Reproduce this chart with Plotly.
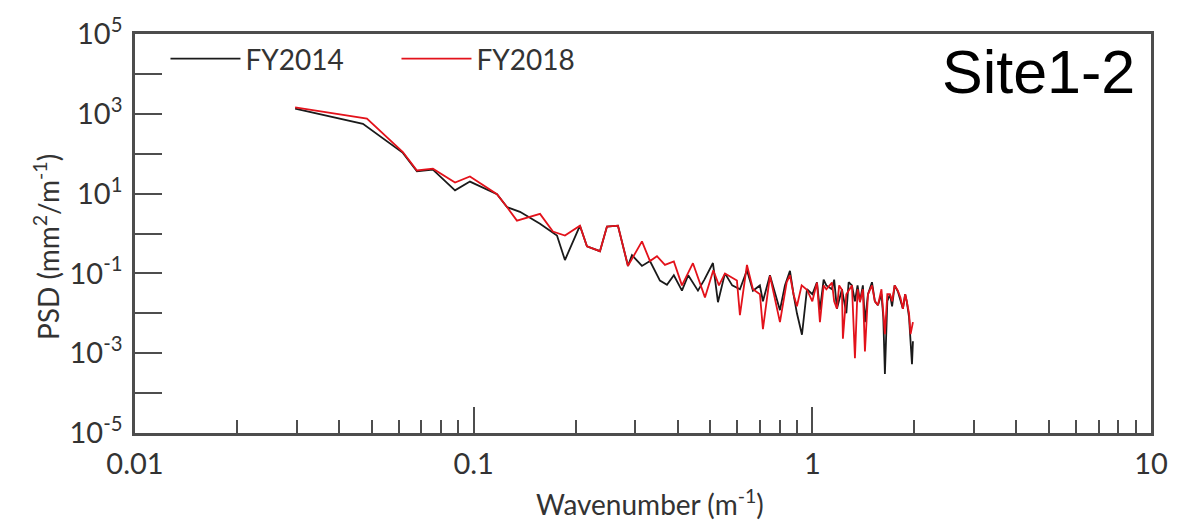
import plotly.graph_objects as go

# ---- data ----
k_2014 = [0.0297, 0.0471, 0.0618, 0.068, 0.0758, 0.0881, 0.0975, 0.1172, 0.1254, 0.137,
          0.157, 0.1762, 0.186, 0.206, 0.216, 0.236, 0.2475, 0.2667, 0.2855, 0.2934,
          0.314, 0.3316, 0.3548, 0.3722, 0.39, 0.4121, 0.43, 0.4595, 0.48, 0.5088,
          0.5264, 0.5521, 0.58, 0.6112, 0.6411, 0.6678, 0.70, 0.7147, 0.7496, 0.78,
          0.8024, 0.83, 0.8589, 0.88, 0.9006, 0.9319, 0.9641, 1.0, 1.032, 1.053,
          1.08, 1.10, 1.143, 1.16, 1.182, 1.223, 1.26, 1.28, 1.309, 1.336,
          1.36, 1.382, 1.41, 1.43, 1.46, 1.50, 1.53, 1.562, 1.60, 1.62,
          1.638, 1.665, 1.695, 1.72, 1.75, 1.789, 1.82, 1.851, 1.88, 1.90,
          1.93, 1.969, 1.982]
psd_2014 = [1340, 560, 105, 36, 40, 12.1, 20, 9.7, 4.6, 3.5,
            1.76, 0.89, 0.216, 1.57, 0.48, 0.36, 1.49, 1.57, 0.154, 0.287,
            0.154, 0.204, 0.066, 0.052, 0.09, 0.037, 0.09, 0.037, 0.07, 0.182,
            0.019, 0.10, 0.05, 0.04, 0.12, 0.037, 0.05, 0.02, 0.09, 0.03,
            0.012, 0.05, 0.116, 0.03, 0.01, 0.0029, 0.04, 0.03, 0.06, 0.012,
            0.07, 0.05, 0.04, 0.07, 0.013, 0.04, 0.01, 0.06, 0.05, 0.02,
            0.05, 0.02, 0.05, 0.006, 0.03, 0.06, 0.02, 0.016, 0.03, 0.008,
            0.0003, 0.02, 0.03, 0.015, 0.05, 0.035, 0.02, 0.013, 0.03, 0.02,
            0.008, 0.00053, 0.002]

k_2018 = [0.0297, 0.0484, 0.0618, 0.068, 0.0758, 0.0881, 0.0975, 0.1172, 0.1254, 0.1342,
          0.157, 0.1714, 0.186, 0.206, 0.216, 0.236, 0.2475, 0.2667, 0.2855, 0.314,
          0.3316, 0.3477, 0.3671, 0.39, 0.4121, 0.4441, 0.4819, 0.51, 0.53, 0.5521,
          0.5989, 0.6112, 0.6411, 0.6678, 0.7003, 0.7147, 0.7496, 0.78, 0.8024, 0.84,
          0.8589, 0.88, 0.9006, 0.93, 0.9641, 1.0, 1.032, 1.053, 1.08, 1.10,
          1.143, 1.16, 1.182, 1.2, 1.223, 1.231, 1.26, 1.309, 1.336, 1.36,
          1.382, 1.41, 1.43, 1.46, 1.50, 1.53, 1.562, 1.60, 1.62, 1.638,
          1.665, 1.695, 1.72, 1.75, 1.789, 1.82, 1.851, 1.88, 1.90, 1.93,
          1.95, 1.982]
psd_2018 = [1450, 760, 110, 38, 42, 19, 27, 9.7, 4.6, 2.1,
            3.1, 1.12, 0.89, 1.57, 0.48, 0.36, 1.49, 1.57, 0.154, 0.635,
            0.204, 0.27, 0.163, 0.2, 0.05, 0.18, 0.025, 0.12, 0.05, 0.10,
            0.066, 0.009, 0.163, 0.04, 0.03, 0.004, 0.087, 0.02, 0.006, 0.06,
            0.09, 0.03, 0.015, 0.05, 0.039, 0.02, 0.0587, 0.006, 0.05, 0.04,
            0.0587, 0.02, 0.013, 0.05, 0.039, 0.0023, 0.03, 0.05, 0.00075, 0.04,
            0.019, 0.04, 0.0011, 0.03, 0.05, 0.02, 0.016, 0.04, 0.01, 0.003,
            0.03, 0.03, 0.02, 0.05, 0.037, 0.025, 0.013, 0.03, 0.02, 0.01,
            0.003, 0.006]

series_names = ["FY2014", "FY2018"]
y_tick_exponents = [5, 4, 3, 2, 1, 0, -1, -2, -3, -4, -5]
x_tick_vals = [0.01, 0.1, 1, 10]
x_tick_text = ["0.01", "0.1", "1", "10"]

# ---- figure ----
FONT = "Lato, 'Open Sans', sans-serif"
TXT = "#333333"
AX = "#4d4d4d"

fig = go.Figure()
fig.add_trace(go.Scatter(x=k_2014, y=psd_2014, mode="lines", name=series_names[0],
                         line=dict(color="#1a1a1a", width=1.8)))
fig.add_trace(go.Scatter(x=k_2018, y=psd_2018, mode="lines", name=series_names[1],
                         line=dict(color="#e3121b", width=1.8)))

y_vals = [10.0 ** e for e in y_tick_exponents]
y_text = [f"10<sup>{e}</sup>" if e % 2 else "" for e in y_tick_exponents]

minor_vals = [m * 10.0 ** d for d in (-2, -1, 0) for m in range(2, 10)]

fig.update_xaxes(type="log", range=[-2, 1], tickvals=x_tick_vals, ticktext=x_tick_text,
                 ticks="inside", ticklen=26, tickwidth=1.5, tickcolor=AX,
                 minor=dict(tickvals=minor_vals, ticks="inside", ticklen=13,
                            tickwidth=1.5, tickcolor=AX, showgrid=False),
                 showline=True, linecolor=AX, linewidth=2.5, mirror=True,
                 showgrid=False, zeroline=False,
                 tickfont=dict(family=FONT, size=29, color=TXT), ticklabelstandoff=3)
fig.update_yaxes(type="log", range=[-5, 5], tickvals=y_vals, ticktext=y_text,
                 ticks="inside", ticklen=27, tickwidth=2, tickcolor=AX,
                 showline=True, linecolor=AX, linewidth=2.5, mirror=True,
                 showgrid=False, zeroline=False,
                 tickfont=dict(family=FONT, size=29, color=TXT), ticklabelstandoff=4)

fig.add_annotation(text="Wavenumber (m<sup>-1</sup>)", xref="paper", yref="paper",
                   x=0.507, y=-0.175, xanchor="center", yanchor="middle", showarrow=False,
                   font=dict(family=FONT, size=28, color=TXT))
fig.add_annotation(text="PSD (mm<sup>2</sup>/m<sup>-1</sup>)", xref="paper", yref="paper",
                   x=-0.087, y=0.465, xanchor="center", yanchor="middle", showarrow=False,
                   textangle=-90, font=dict(family=FONT, size=28, color=TXT))
fig.add_annotation(text="Site1-2", xref="paper", yref="paper",
                   x=0.986, y=0.905, xanchor="right", yanchor="middle", showarrow=False,
                   font=dict(family="Liberation Sans, Arial, sans-serif", size=61, color="#000000"))

fig.update_layout(
    width=1191, height=526,
    margin=dict(l=135, r=40, t=27, b=93),
    paper_bgcolor="white", plot_bgcolor="white",
    showlegend=True,
    legend=dict(orientation="h", x=0.03, y=1.0, xanchor="left", yanchor="top",
                font=dict(family=FONT, size=28, color=TXT), bgcolor="rgba(0,0,0,0)",
                entrywidth=146, itemwidth=70),
)

fig.write_html("out.html")
